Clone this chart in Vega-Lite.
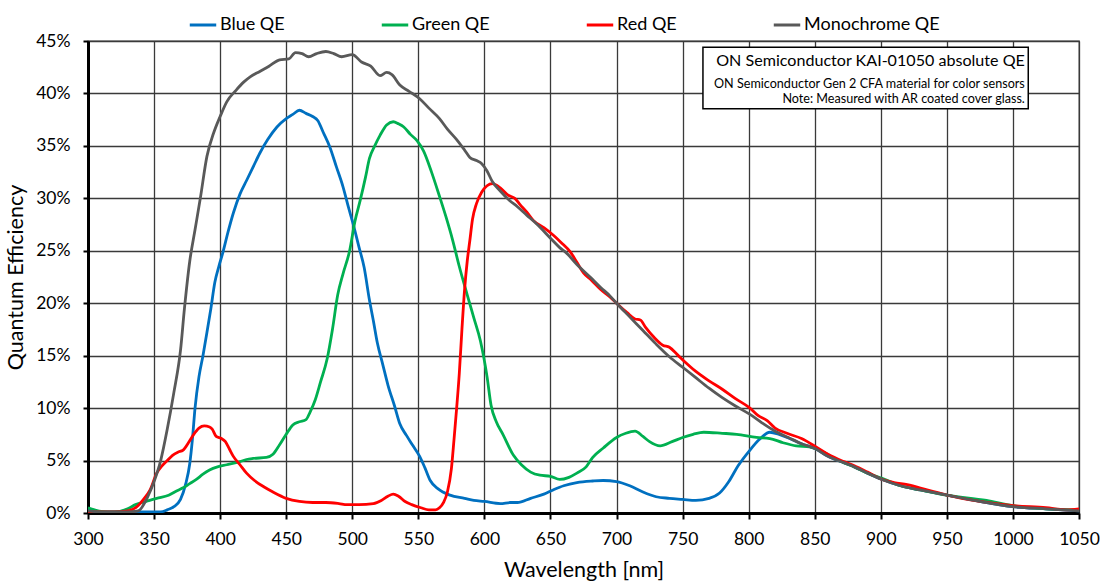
{
  "$schema": "https://vega.github.io/schema/vega-lite/v6.json",
  "width": 991,
  "height": 472,
  "autosize": {"type": "none"},
  "padding": {"left": 88, "top": 41, "right": 24, "bottom": 68},
  "background": "white",
  "config": {
    "font": "Lato",
    "view": {"stroke": "#404040", "strokeWidth": 1.3},
    "axis": {"gridColor": "#3a3a3a", "gridWidth": 1.3, "gridOpacity": 1, "labelColor": "#000", "titleColor": "#000", "labelFont": "Lato", "titleFont": "Lato", "titleFontWeight": "normal", "domainColor": "#000", "tickColor": "#000"}
  },
  "layer": [
    {
      "data": {"values": [
        {"s":"Blue QE","w":300,"q":0.4},{"s":"Blue QE","w":305,"q":0.2},{"s":"Blue QE","w":310,"q":0.1},{"s":"Blue QE","w":330,"q":0.1},{"s":"Blue QE","w":355,"q":0.1},{"s":"Blue QE","w":360,"q":0.3},{"s":"Blue QE","w":365,"q":0.6},{"s":"Blue QE","w":370,"q":1.3},{"s":"Blue QE","w":374,"q":2.8},{"s":"Blue QE","w":377,"q":4.7},{"s":"Blue QE","w":379,"q":7.0},{"s":"Blue QE","w":381,"q":10.0},{"s":"Blue QE","w":384,"q":13.0},{"s":"Blue QE","w":387,"q":15.0},{"s":"Blue QE","w":390,"q":17.2},{"s":"Blue QE","w":393,"q":19.5},{"s":"Blue QE","w":396,"q":22.0},{"s":"Blue QE","w":399,"q":23.5},{"s":"Blue QE","w":402,"q":24.8},{"s":"Blue QE","w":406,"q":26.8},{"s":"Blue QE","w":410,"q":28.6},{"s":"Blue QE","w":415,"q":30.4},{"s":"Blue QE","w":420,"q":31.7},{"s":"Blue QE","w":425,"q":33.0},{"s":"Blue QE","w":430,"q":34.3},{"s":"Blue QE","w":436,"q":35.6},{"s":"Blue QE","w":443,"q":36.8},{"s":"Blue QE","w":450,"q":37.6},{"s":"Blue QE","w":455,"q":38.0},{"s":"Blue QE","w":460,"q":38.4},{"s":"Blue QE","w":465,"q":38.1},{"s":"Blue QE","w":470,"q":37.8},{"s":"Blue QE","w":474,"q":37.4},{"s":"Blue QE","w":478,"q":36.3},{"s":"Blue QE","w":483,"q":34.9},{"s":"Blue QE","w":488,"q":33.0},{"s":"Blue QE","w":493,"q":31.1},{"s":"Blue QE","w":497,"q":29.2},{"s":"Blue QE","w":501,"q":27.4},{"s":"Blue QE","w":505,"q":25.4},{"s":"Blue QE","w":509,"q":23.4},{"s":"Blue QE","w":513,"q":20.3},{"s":"Blue QE","w":516,"q":18.3},{"s":"Blue QE","w":519,"q":16.2},{"s":"Blue QE","w":523,"q":14.2},{"s":"Blue QE","w":527,"q":12.2},{"s":"Blue QE","w":532,"q":10.2},{"s":"Blue QE","w":536,"q":8.5},{"s":"Blue QE","w":541,"q":7.4},{"s":"Blue QE","w":546,"q":6.4},{"s":"Blue QE","w":551,"q":5.4},{"s":"Blue QE","w":555,"q":4.3},{"s":"Blue QE","w":559,"q":3.1},{"s":"Blue QE","w":565,"q":2.3},{"s":"Blue QE","w":574,"q":1.7},{"s":"Blue QE","w":585,"q":1.4},{"s":"Blue QE","w":592,"q":1.2},{"s":"Blue QE","w":600,"q":1.1},{"s":"Blue QE","w":612,"q":0.9},{"s":"Blue QE","w":620,"q":1.0},{"s":"Blue QE","w":625,"q":1.0},{"s":"Blue QE","w":635,"q":1.4},{"s":"Blue QE","w":645,"q":1.8},{"s":"Blue QE","w":652,"q":2.2},{"s":"Blue QE","w":660,"q":2.6},{"s":"Blue QE","w":670,"q":2.9},{"s":"Blue QE","w":682,"q":3.05},{"s":"Blue QE","w":690,"q":3.1},{"s":"Blue QE","w":700,"q":3.0},{"s":"Blue QE","w":710,"q":2.6},{"s":"Blue QE","w":720,"q":2.0},{"s":"Blue QE","w":730,"q":1.55},{"s":"Blue QE","w":740,"q":1.4},{"s":"Blue QE","w":750,"q":1.3},{"s":"Blue QE","w":760,"q":1.2},{"s":"Blue QE","w":770,"q":1.4},{"s":"Blue QE","w":778,"q":1.9},{"s":"Blue QE","w":785,"q":3.0},{"s":"Blue QE","w":792,"q":4.5},{"s":"Blue QE","w":801,"q":6.0},{"s":"Blue QE","w":808,"q":7.0},{"s":"Blue QE","w":816,"q":7.7},{"s":"Blue QE","w":823,"q":7.5},{"s":"Blue QE","w":831,"q":7.1},{"s":"Blue QE","w":840,"q":6.6},{"s":"Blue QE","w":851,"q":6.1},{"s":"Blue QE","w":860,"q":5.4},{"s":"Blue QE","w":872,"q":4.8},{"s":"Blue QE","w":880,"q":4.4},{"s":"Blue QE","w":890,"q":3.8},{"s":"Blue QE","w":901,"q":3.2},{"s":"Blue QE","w":915,"q":2.6},{"s":"Blue QE","w":930,"q":2.2},{"s":"Blue QE","w":950,"q":1.7},{"s":"Blue QE","w":975,"q":1.1},{"s":"Blue QE","w":1000,"q":0.6},{"s":"Blue QE","w":1025,"q":0.4},{"s":"Blue QE","w":1050,"q":0.2},

        {"s":"Green QE","w":300,"q":0.5},{"s":"Green QE","w":305,"q":0.3},{"s":"Green QE","w":310,"q":0.15},{"s":"Green QE","w":320,"q":0.1},{"s":"Green QE","w":330,"q":0.4},{"s":"Green QE","w":336,"q":0.8},{"s":"Green QE","w":344,"q":1.1},{"s":"Green QE","w":352,"q":1.4},{"s":"Green QE","w":361,"q":1.7},{"s":"Green QE","w":367,"q":2.1},{"s":"Green QE","w":372,"q":2.4},{"s":"Green QE","w":377,"q":2.8},{"s":"Green QE","w":382,"q":3.2},{"s":"Green QE","w":387,"q":3.7},{"s":"Green QE","w":392,"q":4.1},{"s":"Green QE","w":398,"q":4.4},{"s":"Green QE","w":405,"q":4.6},{"s":"Green QE","w":415,"q":4.9},{"s":"Green QE","w":420,"q":5.1},{"s":"Green QE","w":425,"q":5.2},{"s":"Green QE","w":435,"q":5.3},{"s":"Green QE","w":440,"q":5.6},{"s":"Green QE","w":445,"q":6.5},{"s":"Green QE","w":450,"q":7.5},{"s":"Green QE","w":455,"q":8.4},{"s":"Green QE","w":460,"q":8.7},{"s":"Green QE","w":465,"q":8.9},{"s":"Green QE","w":468,"q":9.6},{"s":"Green QE","w":472,"q":10.8},{"s":"Green QE","w":476,"q":12.5},{"s":"Green QE","w":481,"q":14.7},{"s":"Green QE","w":485,"q":17.5},{"s":"Green QE","w":489,"q":20.8},{"s":"Green QE","w":493,"q":22.8},{"s":"Green QE","w":498,"q":25.0},{"s":"Green QE","w":502,"q":27.8},{"s":"Green QE","w":506,"q":29.8},{"s":"Green QE","w":510,"q":32.0},{"s":"Green QE","w":513,"q":33.8},{"s":"Green QE","w":517,"q":35.0},{"s":"Green QE","w":521,"q":36.0},{"s":"Green QE","w":526,"q":37.0},{"s":"Green QE","w":531,"q":37.3},{"s":"Green QE","w":535,"q":37.1},{"s":"Green QE","w":539,"q":36.8},{"s":"Green QE","w":544,"q":36.1},{"s":"Green QE","w":549,"q":35.5},{"s":"Green QE","w":554,"q":34.5},{"s":"Green QE","w":560,"q":32.5},{"s":"Green QE","w":566,"q":30.2},{"s":"Green QE","w":571,"q":28.2},{"s":"Green QE","w":576,"q":26.0},{"s":"Green QE","w":581,"q":23.5},{"s":"Green QE","w":587,"q":20.8},{"s":"Green QE","w":592,"q":18.6},{"s":"Green QE","w":597,"q":16.4},{"s":"Green QE","w":602,"q":13.0},{"s":"Green QE","w":605,"q":10.3},{"s":"Green QE","w":609,"q":8.7},{"s":"Green QE","w":614,"q":7.5},{"s":"Green QE","w":622,"q":5.5},{"s":"Green QE","w":628,"q":4.6},{"s":"Green QE","w":635,"q":3.9},{"s":"Green QE","w":642,"q":3.6},{"s":"Green QE","w":650,"q":3.5},{"s":"Green QE","w":657,"q":3.2},{"s":"Green QE","w":664,"q":3.4},{"s":"Green QE","w":670,"q":3.8},{"s":"Green QE","w":677,"q":4.4},{"s":"Green QE","w":682,"q":5.3},{"s":"Green QE","w":690,"q":6.2},{"s":"Green QE","w":700,"q":7.2},{"s":"Green QE","w":707,"q":7.6},{"s":"Green QE","w":714,"q":7.8},{"s":"Green QE","w":720,"q":7.3},{"s":"Green QE","w":725,"q":6.8},{"s":"Green QE","w":733,"q":6.4},{"s":"Green QE","w":742,"q":6.8},{"s":"Green QE","w":750,"q":7.2},{"s":"Green QE","w":758,"q":7.5},{"s":"Green QE","w":766,"q":7.7},{"s":"Green QE","w":780,"q":7.6},{"s":"Green QE","w":791,"q":7.5},{"s":"Green QE","w":806,"q":7.2},{"s":"Green QE","w":816,"q":7.1},{"s":"Green QE","w":826,"q":6.7},{"s":"Green QE","w":836,"q":6.4},{"s":"Green QE","w":846,"q":6.3},{"s":"Green QE","w":855,"q":5.9},{"s":"Green QE","w":864,"q":5.3},{"s":"Green QE","w":872,"q":4.8},{"s":"Green QE","w":880,"q":4.4},{"s":"Green QE","w":890,"q":3.8},{"s":"Green QE","w":901,"q":3.3},{"s":"Green QE","w":915,"q":2.6},{"s":"Green QE","w":930,"q":2.2},{"s":"Green QE","w":950,"q":1.7},{"s":"Green QE","w":980,"q":1.2},{"s":"Green QE","w":1000,"q":0.7},{"s":"Green QE","w":1025,"q":0.4},{"s":"Green QE","w":1050,"q":0.3},

        {"s":"Red QE","w":300,"q":0.1},{"s":"Red QE","w":320,"q":0.1},{"s":"Red QE","w":330,"q":0.2},{"s":"Red QE","w":337,"q":0.6},{"s":"Red QE","w":342,"q":1.3},{"s":"Red QE","w":347,"q":2.2},{"s":"Red QE","w":352,"q":3.8},{"s":"Red QE","w":356,"q":4.5},{"s":"Red QE","w":360,"q":5.0},{"s":"Red QE","w":364,"q":5.5},{"s":"Red QE","w":368,"q":5.8},{"s":"Red QE","w":372,"q":6.0},{"s":"Red QE","w":376,"q":6.7},{"s":"Red QE","w":380,"q":7.5},{"s":"Red QE","w":384,"q":8.1},{"s":"Red QE","w":388,"q":8.3},{"s":"Red QE","w":392,"q":8.2},{"s":"Red QE","w":394,"q":8.0},{"s":"Red QE","w":397,"q":7.3},{"s":"Red QE","w":401,"q":7.1},{"s":"Red QE","w":404,"q":6.8},{"s":"Red QE","w":407,"q":6.1},{"s":"Red QE","w":410,"q":5.4},{"s":"Red QE","w":415,"q":4.6},{"s":"Red QE","w":420,"q":3.8},{"s":"Red QE","w":426,"q":3.1},{"s":"Red QE","w":433,"q":2.5},{"s":"Red QE","w":440,"q":2.0},{"s":"Red QE","w":450,"q":1.4},{"s":"Red QE","w":460,"q":1.1},{"s":"Red QE","w":470,"q":1.0},{"s":"Red QE","w":480,"q":1.0},{"s":"Red QE","w":490,"q":0.9},{"s":"Red QE","w":496,"q":0.8},{"s":"Red QE","w":505,"q":0.8},{"s":"Red QE","w":516,"q":0.9},{"s":"Red QE","w":522,"q":1.2},{"s":"Red QE","w":527,"q":1.6},{"s":"Red QE","w":531,"q":1.8},{"s":"Red QE","w":535,"q":1.6},{"s":"Red QE","w":540,"q":1.1},{"s":"Red QE","w":545,"q":0.8},{"s":"Red QE","w":552,"q":0.5},{"s":"Red QE","w":558,"q":0.3},{"s":"Red QE","w":563,"q":0.3},{"s":"Red QE","w":566,"q":0.5},{"s":"Red QE","w":569,"q":1.0},{"s":"Red QE","w":572,"q":2.0},{"s":"Red QE","w":575,"q":4.2},{"s":"Red QE","w":577,"q":7.0},{"s":"Red QE","w":579,"q":10.0},{"s":"Red QE","w":581,"q":13.3},{"s":"Red QE","w":583,"q":17.5},{"s":"Red QE","w":585,"q":21.3},{"s":"Red QE","w":587,"q":24.0},{"s":"Red QE","w":589,"q":26.0},{"s":"Red QE","w":591,"q":28.0},{"s":"Red QE","w":594,"q":29.5},{"s":"Red QE","w":598,"q":30.6},{"s":"Red QE","w":602,"q":31.2},{"s":"Red QE","w":606,"q":31.4},{"s":"Red QE","w":612,"q":31.0},{"s":"Red QE","w":618,"q":30.3},{"s":"Red QE","w":623,"q":30.0},{"s":"Red QE","w":627,"q":29.4},{"s":"Red QE","w":632,"q":28.7},{"s":"Red QE","w":637,"q":27.9},{"s":"Red QE","w":645,"q":27.2},{"s":"Red QE","w":652,"q":26.5},{"s":"Red QE","w":658,"q":25.8},{"s":"Red QE","w":665,"q":24.9},{"s":"Red QE","w":670,"q":23.9},{"s":"Red QE","w":675,"q":22.9},{"s":"Red QE","w":681,"q":22.2},{"s":"Red QE","w":688,"q":21.3},{"s":"Red QE","w":695,"q":20.6},{"s":"Red QE","w":700,"q":20.0},{"s":"Red QE","w":708,"q":19.1},{"s":"Red QE","w":714,"q":18.5},{"s":"Red QE","w":718,"q":18.4},{"s":"Red QE","w":722,"q":17.7},{"s":"Red QE","w":728,"q":16.8},{"s":"Red QE","w":735,"q":16.0},{"s":"Red QE","w":740,"q":15.8},{"s":"Red QE","w":746,"q":15.1},{"s":"Red QE","w":751,"q":14.5},{"s":"Red QE","w":760,"q":13.5},{"s":"Red QE","w":770,"q":12.6},{"s":"Red QE","w":780,"q":11.8},{"s":"Red QE","w":790,"q":10.9},{"s":"Red QE","w":801,"q":10.0},{"s":"Red QE","w":807,"q":9.3},{"s":"Red QE","w":814,"q":8.8},{"s":"Red QE","w":820,"q":8.1},{"s":"Red QE","w":829,"q":7.6},{"s":"Red QE","w":840,"q":7.1},{"s":"Red QE","w":851,"q":6.3},{"s":"Red QE","w":860,"q":5.6},{"s":"Red QE","w":872,"q":4.9},{"s":"Red QE","w":880,"q":4.5},{"s":"Red QE","w":890,"q":3.9},{"s":"Red QE","w":901,"q":3.2},{"s":"Red QE","w":910,"q":2.9},{"s":"Red QE","w":920,"q":2.7},{"s":"Red QE","w":935,"q":2.2},{"s":"Red QE","w":950,"q":1.7},{"s":"Red QE","w":975,"q":1.1},{"s":"Red QE","w":1000,"q":0.7},{"s":"Red QE","w":1025,"q":0.5},{"s":"Red QE","w":1040,"q":0.3},{"s":"Red QE","w":1050,"q":0.4},

        {"s":"Monochrome QE","w":300,"q":0.2},{"s":"Monochrome QE","w":310,"q":0.1},{"s":"Monochrome QE","w":330,"q":0.1},{"s":"Monochrome QE","w":338,"q":0.2},{"s":"Monochrome QE","w":345,"q":1.5},{"s":"Monochrome QE","w":350,"q":3.0},{"s":"Monochrome QE","w":355,"q":5.0},{"s":"Monochrome QE","w":360,"q":8.0},{"s":"Monochrome QE","w":365,"q":11.5},{"s":"Monochrome QE","w":370,"q":15.5},{"s":"Monochrome QE","w":373,"q":19.5},{"s":"Monochrome QE","w":377,"q":24.0},{"s":"Monochrome QE","w":381,"q":27.0},{"s":"Monochrome QE","w":385,"q":30.0},{"s":"Monochrome QE","w":390,"q":34.0},{"s":"Monochrome QE","w":395,"q":36.2},{"s":"Monochrome QE","w":400,"q":37.8},{"s":"Monochrome QE","w":405,"q":39.2},{"s":"Monochrome QE","w":412,"q":40.3},{"s":"Monochrome QE","w":418,"q":41.1},{"s":"Monochrome QE","w":423,"q":41.6},{"s":"Monochrome QE","w":430,"q":42.1},{"s":"Monochrome QE","w":437,"q":42.6},{"s":"Monochrome QE","w":445,"q":43.2},{"s":"Monochrome QE","w":452,"q":43.3},{"s":"Monochrome QE","w":457,"q":43.9},{"s":"Monochrome QE","w":462,"q":43.8},{"s":"Monochrome QE","w":467,"q":43.5},{"s":"Monochrome QE","w":473,"q":43.8},{"s":"Monochrome QE","w":480,"q":44.0},{"s":"Monochrome QE","w":486,"q":43.8},{"s":"Monochrome QE","w":492,"q":43.5},{"s":"Monochrome QE","w":500,"q":43.7},{"s":"Monochrome QE","w":507,"q":43.0},{"s":"Monochrome QE","w":514,"q":42.6},{"s":"Monochrome QE","w":521,"q":41.7},{"s":"Monochrome QE","w":526,"q":42.0},{"s":"Monochrome QE","w":530,"q":41.8},{"s":"Monochrome QE","w":536,"q":40.8},{"s":"Monochrome QE","w":543,"q":40.2},{"s":"Monochrome QE","w":551,"q":39.5},{"s":"Monochrome QE","w":558,"q":38.6},{"s":"Monochrome QE","w":566,"q":37.6},{"s":"Monochrome QE","w":572,"q":36.6},{"s":"Monochrome QE","w":579,"q":35.6},{"s":"Monochrome QE","w":585,"q":34.6},{"s":"Monochrome QE","w":589,"q":33.9},{"s":"Monochrome QE","w":594,"q":33.6},{"s":"Monochrome QE","w":598,"q":33.3},{"s":"Monochrome QE","w":602,"q":32.6},{"s":"Monochrome QE","w":606,"q":31.6},{"s":"Monochrome QE","w":612,"q":30.7},{"s":"Monochrome QE","w":619,"q":29.8},{"s":"Monochrome QE","w":625,"q":29.2},{"s":"Monochrome QE","w":632,"q":28.4},{"s":"Monochrome QE","w":640,"q":27.5},{"s":"Monochrome QE","w":650,"q":26.2},{"s":"Monochrome QE","w":657,"q":25.3},{"s":"Monochrome QE","w":662,"q":24.8},{"s":"Monochrome QE","w":670,"q":23.7},{"s":"Monochrome QE","w":680,"q":22.5},{"s":"Monochrome QE","w":688,"q":21.5},{"s":"Monochrome QE","w":695,"q":20.7},{"s":"Monochrome QE","w":700,"q":20.0},{"s":"Monochrome QE","w":710,"q":18.7},{"s":"Monochrome QE","w":720,"q":17.4},{"s":"Monochrome QE","w":730,"q":16.1},{"s":"Monochrome QE","w":740,"q":14.9},{"s":"Monochrome QE","w":750,"q":13.9},{"s":"Monochrome QE","w":760,"q":12.9},{"s":"Monochrome QE","w":770,"q":11.9},{"s":"Monochrome QE","w":780,"q":11.0},{"s":"Monochrome QE","w":790,"q":10.2},{"s":"Monochrome QE","w":801,"q":9.4},{"s":"Monochrome QE","w":810,"q":8.6},{"s":"Monochrome QE","w":820,"q":7.8},{"s":"Monochrome QE","w":830,"q":7.2},{"s":"Monochrome QE","w":840,"q":6.6},{"s":"Monochrome QE","w":851,"q":6.1},{"s":"Monochrome QE","w":860,"q":5.4},{"s":"Monochrome QE","w":872,"q":4.8},{"s":"Monochrome QE","w":880,"q":4.4},{"s":"Monochrome QE","w":890,"q":3.8},{"s":"Monochrome QE","w":901,"q":3.2},{"s":"Monochrome QE","w":915,"q":2.6},{"s":"Monochrome QE","w":930,"q":2.2},{"s":"Monochrome QE","w":950,"q":1.7},{"s":"Monochrome QE","w":975,"q":1.1},{"s":"Monochrome QE","w":1000,"q":0.6},{"s":"Monochrome QE","w":1025,"q":0.4},{"s":"Monochrome QE","w":1050,"q":0.2}
      ]},
      "mark": {"type": "line", "strokeWidth": 2.8, "interpolate": "monotone", "clip": true},
      "encoding": {
        "x": {"field": "w", "type": "quantitative", "title": "Wavelength [nm]",
          "scale": {"domain": [300, 1050], "nice": false, "zero": false},
          "axis": {"values": [300,350,400,450,500,550,600,650,700,750,800,850,900,950,1000,1050], "format": "d", "labelFontSize": 17.5, "titleFontSize": 21.5, "tickSize": 6, "tickWidth": 2, "domainWidth": 3, "labelPadding": 11, "titlePadding": 12, "labelFlush": false}},
        "y": {"field": "q", "type": "quantitative", "title": "Quantum Efficiency",
          "scale": {"domain": [0, 45], "nice": false},
          "axis": {"values": [0,5,10,15,20,25,30,35,40,45], "labelExpr": "datum.value + '%'", "labelFontSize": 17.5, "titleFontSize": 21.5, "tickSize": 5, "tickWidth": 2, "domainWidth": 3, "labelPadding": 13, "titlePadding": 8}},
        "color": {"field": "s", "type": "nominal", "sort": ["Blue QE", "Green QE", "Red QE", "Monochrome QE"],
          "scale": {"domain": ["Blue QE", "Green QE", "Red QE", "Monochrome QE"], "range": ["#0070C0", "#00B050", "#FF0000", "#595959"]},
          "legend": {"title": null, "orient": "none", "legendX": 100, "legendY": -31, "direction": "horizontal", "symbolType": "stroke", "symbolStrokeWidth": 3, "symbolSize": 700, "labelFontSize": 18, "labelOffset": 2, "columnPadding": 90, "labelColor": "#000"}}
      }
    },
    {
      "data": {"values": [{"t": "box"}]},
      "mark": {"type": "rect", "fill": "white", "stroke": "#000", "strokeWidth": 1.5},
      "encoding": {
        "x": {"datum": 765.4, "type": "quantitative"},
        "x2": {"datum": 1011.6},
        "y": {"datum": 44.4, "type": "quantitative"},
        "y2": {"datum": 38.55}
      }
    },
    {
      "data": {"values": [
        {"line": "ON Semiconductor KAI-01050 absolute QE", "w": 1009, "q": 42.6, "size": "big"},
        {"line": "ON Semiconductor Gen 2 CFA material for color sensors", "w": 1009, "q": 40.55, "size": "small"},
        {"line": "Note: Measured with AR coated cover glass.", "w": 1009, "q": 39.05, "size": "small"}
      ]},
      "mark": {"type": "text", "align": "right", "baseline": "alphabetic", "color": "#000"},
      "encoding": {
        "x": {"field": "w", "type": "quantitative"},
        "y": {"field": "q", "type": "quantitative"},
        "text": {"field": "line"},
        "size": {"field": "size", "type": "nominal", "scale": {"domain": ["big", "small"], "range": [16.1, 12.6]}, "legend": null}
      }
    }
  ]
}
